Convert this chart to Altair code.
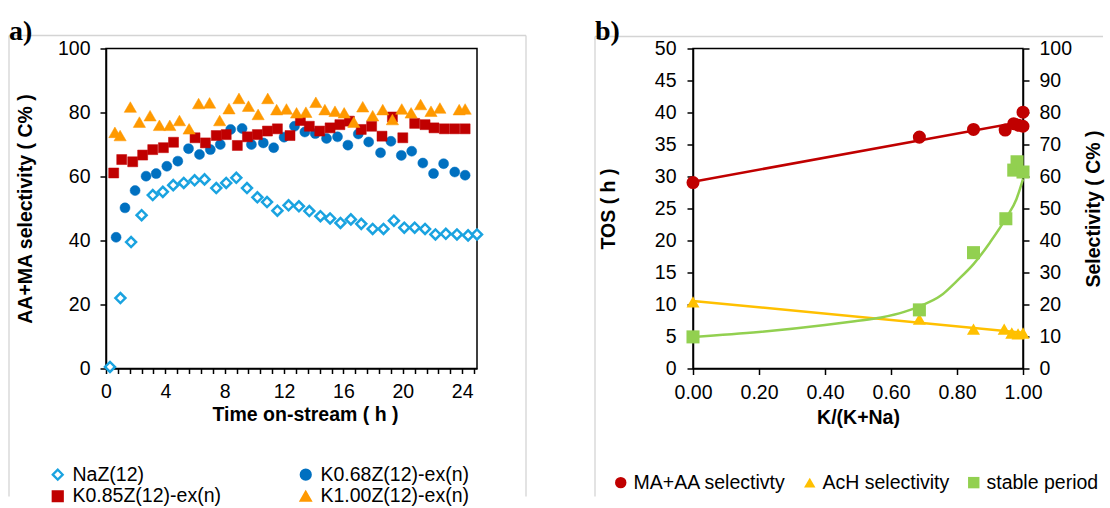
import altair as alt
import pandas as pd

FONT = "Liberation Sans"

# ---------------- panel a data ----------------
samples = ["NaZ(12)", "K0.68Z(12)-ex(n)", "K0.85Z(12)-ex(n)", "K1.00Z(12)-ex(n)"]
legend_order = ["NaZ(12)", "K0.85Z(12)-ex(n)", "K0.68Z(12)-ex(n)", "K1.00Z(12)-ex(n)"]

naz_t = [0.27, 0.97, 1.69, 2.4, 3.15, 3.83, 4.53, 5.24, 5.97, 6.64, 7.43, 8.1, 8.78, 9.5,
         10.2, 10.85, 11.55, 12.3, 13.0, 13.7, 14.45, 15.1, 15.8, 16.5, 17.2, 17.97, 18.7,
         19.4, 20.1, 20.8, 21.5, 22.2, 22.9, 23.65, 24.4, 25.0]
naz_v = [0.5, 22, 39.5, 47.9, 54.2, 55.2, 57.3, 58, 58.8, 59.1, 56.4, 58, 59.6, 56.4,
         53.5, 52, 49.3, 51, 50.7, 49.2, 47.6, 46.9, 45.5, 46.6, 45.2, 43.6, 43.6,
         46.2, 44, 44, 43.6, 41.9, 42.1, 41.9, 41.6, 41.9]

k068_t = [0.68, 1.28, 1.96, 2.7, 3.38, 4.1, 4.84, 5.56, 6.3, 7.03, 7.7, 8.4, 9.17, 9.8,
          10.6, 11.3, 12.0, 12.7, 13.4, 14.1, 14.86, 15.6, 16.3, 17.0, 17.7, 18.5, 19.2,
          19.9, 20.6, 21.35, 22.07, 22.75, 23.5, 24.2]
k068_v = [41, 50.2, 55.6, 60.1, 60.9, 63.2, 64.8, 68.7, 66.9, 68.4, 70, 74.7, 75, 70,
          70.5, 69, 72.3, 75.7, 73.9, 73.4, 71.9, 72.4, 69.8, 73.3, 70.8, 67.4, 71,
          66.6, 67.9, 64.2, 60.9, 64, 61.4, 60.4]

k085_t = [0.52, 1.06, 1.8, 2.47, 3.15, 3.87, 4.55, 6.0, 6.7, 7.43, 8.1, 8.85, 9.53, 10.2,
          10.88, 11.55, 12.4, 13.1, 13.7, 14.4, 15.1, 15.76, 16.4, 17.2, 17.9, 18.6, 19.3,
          20.0, 20.8, 21.5, 22.1, 22.8, 23.5, 24.2]
k085_v = [61.1, 65.3, 64.6, 66.7, 68.4, 69, 70.7, 72.1, 70.5, 72.8, 73.1, 69.7, 72.4, 73.1,
          74.2, 74.9, 72.8, 77.5, 75.7, 74.2, 75.2, 76.2, 77.3, 74.7, 75.7, 72.6, 78.6,
          72.1, 76.6, 76.2, 75.2, 74.9, 74.9, 74.9]

k100_t = [0.6, 0.95, 1.64, 2.25, 2.97, 3.6, 4.3, 4.95, 5.6, 6.24, 6.98, 7.66, 8.29, 8.96,
          9.6, 10.25, 10.9, 11.5, 12.16, 12.84, 13.47, 14.14, 14.75, 15.43, 16.05, 16.7,
          17.3, 17.97, 18.65, 19.3, 19.93, 20.56, 21.2, 21.9, 22.5, 23.8, 24.2]
k100_v = [73.8, 72.8, 81.7, 77, 79, 76, 76, 77.5, 74.9, 82.8, 83, 77.5, 81.2, 84.4,
          82, 79.4, 84.4, 80.9, 81.1, 79.9, 80.1, 83.2, 80.9, 80.4, 79.9, 77,
          81.8, 79, 80.9, 77.8, 81.1, 79.9, 82.5, 80.4, 81.4, 80.9, 81.1]

xa_ticks = [0, 0.8, 1.6, 2.4, 3.2, 4, 4.8, 5.6, 6.4, 7.2, 8, 8.8, 9.6, 10.4, 11.2, 12,
            12.8, 13.6, 14.4, 15.2, 16, 16.8, 17.6, 18.4, 19.2, 20, 20.8, 21.6, 22.4,
            23.2, 24, 24.8]
xa_labels = [0, 4, 8, 12, 16, 20, 24]
ya_ticks = [0, 20, 40, 60, 80, 100]

# ---------------- panel b data ----------------
metrics = ["MA+AA selectivty", "AcH selectivity", "stable period"]
red_k = [0, 0.686, 0.85, 0.946, 0.972, 0.987, 1.0, 1.0]
red_v = [58.1, 72.3, 74.7, 74.5, 76.5, 76.0, 75.7, 80.1]
yel_k = [0, 0.686, 0.85, 0.943, 0.966, 0.985, 1.0]
yel_v = [20.8, 15.4, 12.3, 12.3, 11.1, 10.8, 11.1]
grn_k = [0, 0.686, 0.85, 0.948, 0.972, 0.982, 1.0]
grn_h = [4.94, 9.16, 18.1, 23.4, 31.0, 32.3, 30.7]
# trend curve of the stable period
trend_k = [0, 0.2, 0.4, 0.49, 0.57, 0.64, 0.69, 0.75, 0.8, 0.85, 0.9, 0.95, 0.98, 1.0]
trend_h = [4.94, 5.7, 6.8, 7.4, 7.97, 8.85, 9.8, 11.35, 13.7, 16.3, 19.7, 23.6, 26.45, 29.6]

xb_ticks = [0, 0.2, 0.4, 0.6, 0.8, 1.0]
yl_ticks = [0, 5, 10, 15, 20, 25, 30, 35, 40, 45, 50]
yr_ticks = [0, 10, 20, 30, 40, 50, 60, 70, 80, 90, 100]

LBLUE, BLUE, DRED, ORANGE = "#1AA3E0", "#0070C0", "#C00000", "#FF9900"
RED, YEL, GRN = "#C00000", "#FFC000", "#92D050"
FRAME = "#D4D4D4"

sample_shape = {"NaZ(12)": "diamond", "K0.68Z(12)-ex(n)": "circle",
                "K0.85Z(12)-ex(n)": "square", "K1.00Z(12)-ex(n)": "triangle-up"}
sample_fill = {"NaZ(12)": "white", "K0.68Z(12)-ex(n)": BLUE,
               "K0.85Z(12)-ex(n)": DRED, "K1.00Z(12)-ex(n)": ORANGE}
sample_stroke = {"NaZ(12)": LBLUE, "K0.68Z(12)-ex(n)": BLUE,
                 "K0.85Z(12)-ex(n)": DRED, "K1.00Z(12)-ex(n)": ORANGE}


def rule(x, x2, y, y2):
    return alt.Chart().mark_rule(color=FRAME, strokeWidth=1.3).encode(
        x=alt.value(x), x2=alt.value(x2), y=alt.value(y), y2=alt.value(y2))


# ---------------- panel a ----------------
dfa = pd.concat([
    pd.DataFrame({"t": naz_t, "v": naz_v, "sample": samples[0]}),
    pd.DataFrame({"t": k068_t, "v": k068_v, "sample": samples[1]}),
    pd.DataFrame({"t": k085_t, "v": k085_v, "sample": samples[2]}),
    pd.DataFrame({"t": k100_t, "v": k100_v, "sample": samples[3]}),
])

legA = alt.Legend(title=None, orient="none", legendX=-58, legendY=416, columns=2,
                  columnPadding=75, rowPadding=1, labelFont=FONT, labelFontSize=19.5,
                  labelColor="black", labelLimit=400, symbolSize=100,
                  symbolStrokeWidth=2.2, labelOffset=5)

pts_a = alt.Chart(dfa).mark_point(opacity=1).encode(
    x=alt.X("t:Q", title="Time on-stream ( h )",
            scale=alt.Scale(domain=[0, 25], nice=False, zero=False),
            axis=alt.Axis(values=xa_ticks, tickSize=5, labelPadding=9, titlePadding=4,
                          titleX=199,
                          labelExpr="indexof(%s, datum.value) >= 0 ? datum.label : ''" % str(xa_labels))),
    y=alt.Y("v:Q", title="AA+MA selectivity ( C% )",
            scale=alt.Scale(domain=[0, 100], nice=False),
            axis=alt.Axis(values=ya_ticks, tickSize=6, labelPadding=10, titlePadding=22)),
    shape=alt.Shape("sample:N", scale=alt.Scale(domain=legend_order,
                    range=[sample_shape[s] for s in legend_order]), legend=legA),
    fill=alt.Fill("sample:N", scale=alt.Scale(domain=legend_order,
                  range=[sample_fill[s] for s in legend_order]), legend=legA),
    stroke=alt.Stroke("sample:N", scale=alt.Scale(domain=legend_order,
                      range=[sample_stroke[s] for s in legend_order]), legend=legA),
    strokeWidth=alt.condition("datum.sample == 'NaZ(12)'", alt.value(2.5), alt.value(0.5)),
    size=alt.condition("datum.sample == 'K1.00Z(12)-ex(n)'", alt.value(150), alt.value(100)),
)

lab_a = alt.Chart().mark_text(text="a)", font="Liberation Serif", fontWeight="bold",
                              fontSize=28, align="left", baseline="alphabetic").encode(
    x=alt.value(-97), y=alt.value(-9))

panel_a = alt.layer(
    rule(-97, -97, -13, 448), rule(-97, 420, -13, -13), rule(420, 420, -13, 448),
    pts_a, lab_a
).properties(width=371, height=320)

# ---------------- panel b ----------------
df_red = pd.DataFrame({"k": red_k, "v": red_v, "metric": metrics[0]})
df_yel = pd.DataFrame({"k": yel_k, "v": yel_v, "metric": metrics[1]})
df_grn = pd.DataFrame({"k": grn_k, "v": grn_h, "metric": metrics[2]})
df_trend = pd.DataFrame({"k": trend_k, "v": trend_h})

legB = alt.Legend(title=None, orient="none", direction="horizontal", legendX=-82,
                  legendY=424, columnPadding=14, labelFont=FONT, labelFontSize=19.5,
                  labelColor="black", labelLimit=400, symbolSize=130, labelOffset=3)

xb = alt.X("k:Q", title="K/(K+Na)", scale=alt.Scale(domain=[0, 1], nice=False),
           axis=alt.Axis(values=xb_ticks, format=".2f", tickSize=6, labelPadding=9,
                         titlePadding=6))
yL = alt.Y("v:Q", title="TOS ( h )", scale=alt.Scale(domain=[0, 50], nice=False),
           axis=alt.Axis(orient="left", values=yl_ticks, tickSize=6, labelPadding=11,
                         titlePadding=36))
yR = alt.Y("v:Q", title="Selectivity ( C% )", scale=alt.Scale(domain=[0, 100], nice=False),
           axis=alt.Axis(orient="right", values=yr_ticks, tickSize=6, labelPadding=10,
                         titlePadding=32, titleAngle=270))
colB = alt.Color("metric:N", scale=alt.Scale(domain=metrics, range=[RED, YEL, GRN]), legend=legB)
shpB = alt.Shape("metric:N", scale=alt.Scale(domain=metrics,
                 range=["circle", "triangle-up", "square"]), legend=legB)

red_line = alt.Chart(df_red).transform_regression("k", "v", extent=[0, 1]).mark_line(
    color=RED, strokeWidth=2.5).encode(x=xb, y=yR)
yel_line = alt.Chart(df_yel).transform_regression("k", "v", extent=[0, 1]).mark_line(
    color=YEL, strokeWidth=2.5).encode(x=xb, y=yR)
ry_pts = alt.Chart(pd.concat([df_yel, df_red])).mark_point(filled=True, opacity=1, size=170).encode(
    x=xb, y=yR, color=colB, shape=shpB)
right_layer = alt.layer(red_line, yel_line, ry_pts)

grn_line = alt.Chart(df_trend).mark_line(color=GRN, strokeWidth=2.5, interpolate="monotone").encode(
    x=xb, y=yL)
grn_pts = alt.Chart(df_grn).mark_point(filled=True, opacity=1, size=170).encode(
    x=xb, y=yL, color=colB, shape=shpB)
left_layer = alt.layer(grn_line, grn_pts)

lab_b = alt.Chart().mark_text(text="b)", font="Liberation Serif", fontWeight="bold",
                              fontSize=28, align="left", baseline="alphabetic").encode(
    x=alt.value(-98), y=alt.value(-9))

panel_b = alt.layer(
    rule(-98, -98, -12, 448), rule(-98, 410, -12, -12),
    right_layer, left_layer, lab_b
).resolve_scale(y="independent").properties(width=330, height=320)

chart = alt.hconcat(panel_a, panel_b, spacing=65).resolve_scale(
    shape="independent", color="independent", fill="independent", stroke="independent"
).properties(
    padding={"left": 7, "top": 16.5, "right": 0, "bottom": 0}
).configure(font=FONT).configure_view(
    stroke="black", strokeWidth=1.5
).configure_axis(
    domainColor="black", tickColor="black", labelColor="black", titleColor="black",
    grid=False, labelFont=FONT, titleFont=FONT, labelFontSize=19.5, titleFontSize=19.5,
    titleFontWeight="bold", labelFlush=False, labelOverlap=False, domainWidth=1.5,
    tickWidth=1.5
)

chart.save("out.html", embed_options={"renderer": "svg", "actions": False})
